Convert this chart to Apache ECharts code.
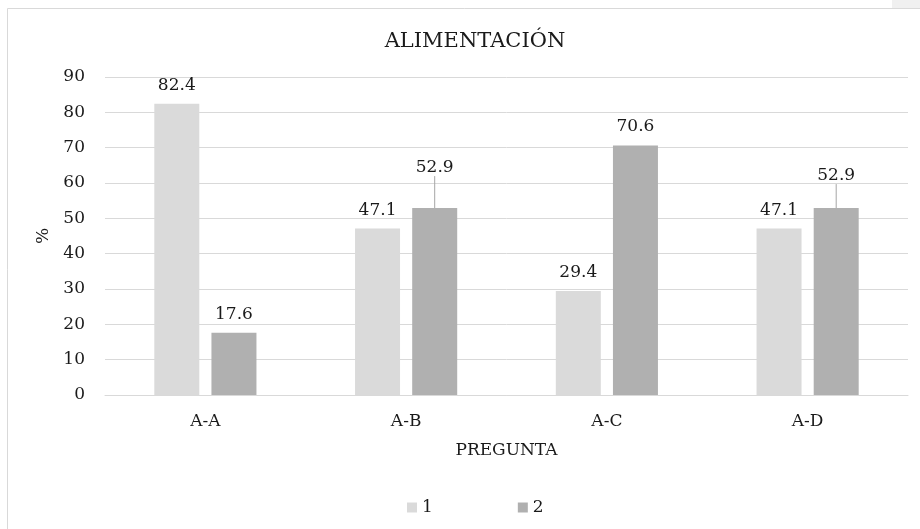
<!DOCTYPE html>
<html>
<head>
<meta charset="utf-8">
<title>ALIMENTACIÓN</title>
<script src="https://cdn.jsdelivr.net/npm/echarts@6/dist/echarts.min.js"></script>
<style>
  html, body { margin: 0; padding: 0; background: #ffffff; }
  #chart { width: 920px; height: 529px; }
</style>
</head>
<body>
<div id="chart"></div>
<script>
// Categories, series and axis ticks
const categories = ['A-A', 'A-B', 'A-C', 'A-D'];
const seriesNames = ['1', '2'];
const values1 = [82.4, 47.1, 29.4, 47.1];
const values2 = [17.6, 52.9, 70.6, 52.9];
const yTicks = [0, 10, 20, 30, 40, 50, 60, 70, 80, 90];

// Labels that sit raised above their bar with a leader line (series 2)
const raisedLabels = { 1: -22, 3: -14 };

const FONT = '"DejaVu Serif", "Liberation Serif", serif';
const TEXT = '#1a1a1a';

const chart = echarts.init(document.getElementById('chart'), null, { renderer: 'canvas' });

const labelStyle = {
  show: true,
  position: 'top',
  distance: 10,
  fontFamily: FONT,
  fontSize: 17,
  color: TEXT,
  formatter: p => p.value.toFixed(1)
};

// Series 2 items: only the raised labels get a leader line
const series2Data = values2.map((v, i) => ({
  value: v,
  labelLine: { show: raisedLabels[i] !== undefined }
}));

chart.setOption({
  animation: false,
  backgroundColor: '#ffffff',
  title: {
    text: 'ALIMENTACIÓN',
    left: 470,
    textAlign: 'center',
    top: 26,
    textStyle: { fontFamily: FONT, fontSize: 21, fontWeight: 'normal', color: TEXT }
  },
  legend: {
    data: seriesNames,
    left: 402,
    top: 494,
    itemWidth: 10,
    itemHeight: 10,
    itemGap: 85,
    icon: 'rect',
    textStyle: { fontFamily: FONT, fontSize: 17, color: TEXT }
  },
  grid: { left: 105, right: 12, top: 77, bottom: 134, containLabel: false },
  xAxis: {
    type: 'category',
    data: categories,
    name: 'PREGUNTA',
    nameLocation: 'middle',
    nameGap: 47,
    nameTextStyle: { fontFamily: FONT, fontSize: 17, color: TEXT },
    axisLine: { lineStyle: { color: '#d9d9d9', width: 1 } },
    axisTick: { show: false },
    axisLabel: { margin: 18, fontFamily: FONT, fontSize: 17, color: TEXT }
  },
  yAxis: {
    type: 'value',
    min: yTicks[0],
    max: yTicks[yTicks.length - 1],
    interval: yTicks[1] - yTicks[0],
    name: '%',
    nameLocation: 'middle',
    nameGap: 49,
    nameRotate: 90,
    nameTextStyle: { fontFamily: FONT, fontSize: 17, color: TEXT },
    axisLine: { show: false },
    axisTick: { show: false },
    splitLine: { lineStyle: { color: '#d9d9d9', width: 1 } },
    axisLabel: { margin: 20, fontFamily: FONT, fontSize: 17, color: TEXT }
  },
  series: [
    {
      name: seriesNames[0],
      type: 'bar',
      data: values1,
      barWidth: 45,
      barGap: '27%',
      itemStyle: { color: '#dadada' },
      label: labelStyle
    },
    {
      name: seriesNames[1],
      type: 'bar',
      data: series2Data,
      barWidth: 45,
      barGap: '27%',
      itemStyle: { color: '#b0b0b0' },
      label: labelStyle,
      labelLine: { show: false, lineStyle: { color: '#a6a6a6', width: 1 } },
      labelLayout: p => (raisedLabels[p.dataIndex] !== undefined ? { dy: raisedLabels[p.dataIndex] } : {})
    }
  ],
  graphic: [
    {
      type: 'rect',
      silent: true,
      shape: { x: 7.5, y: 8.5, width: 960, height: 560 },
      style: { fill: 'none', stroke: '#d9d9d9', lineWidth: 1 }
    },
    {
      type: 'rect',
      silent: true,
      shape: { x: 892, y: 0, width: 28, height: 8 },
      style: { fill: '#f0f0f0' }
    }
  ]
});
</script>
</body>
</html>
